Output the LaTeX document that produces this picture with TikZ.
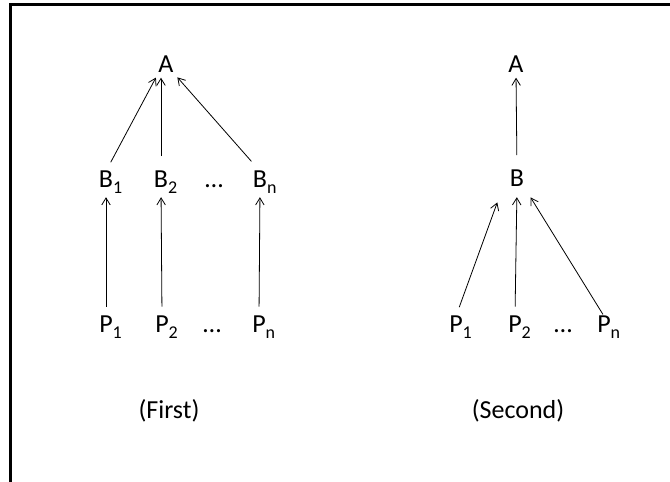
\documentclass[tikz,border=0pt]{standalone}
\usepackage{fontspec}
\setmainfont{Carlito}
\usepackage{tikz}
\usetikzlibrary{arrows.meta, calc}
\newcommand{\lsub}[1]{\rlap{\raisebox{-5.8pt}[0pt][0pt]{\fontsize{18}{20}\selectfont #1}}}
\tikzset{
    letter/.style={inner sep=0pt, anchor=base, font=\fontsize{26}{30}\selectfont},
    arr/.style={-{Straight Barb[length=7pt, width=8.5pt]}, line width=0.8pt, black},
    frame/.style={line width=2.5pt, black}
}

\begin{document}
\begin{tikzpicture}[x=1pt, y=1pt]
        \useasboundingbox (0,0) rectangle (670,482);
        % Frame: only the top and left edges show
        \draw[frame] (10.5,0) -- (10.5,477.5) -- (670,477.5);

        % First tree
        \node[letter] (fA) at (166,409) {A};
        \node[letter] (fB1) at (106,294) {B\lsub{1}};
        \node[letter] (fB2) at (161,294) {B\lsub{2}};
        \node[letter] (fBd) at (214,294) {…};
        \node[letter] (fBn) at (260,294) {B\lsub{n}};
        \node[letter] (fP1) at (106,149) {P\lsub{1}};
        \node[letter] (fP2) at (162,149) {P\lsub{2}};
        \node[letter] (fPd) at (212,149) {…};
        \node[letter] (fPn) at (259,149) {P\lsub{n}};
        \node[letter] (first) at (169,63) {(First)};

        \draw[arr, shorten <=10pt, shorten >=5pt] (fB1.north) -- (fA.south west);
        \draw[arr, shorten <=15pt, shorten >=4.5pt] (fB2.north) -- (fB2.north |- fA.south);
        \draw[arr, shorten <=13pt, shorten >=5.5pt] (fBn.north) -- (fA.south east);
        \draw[arr, shorten <=9.5pt, shorten >=9pt] (fP1.north) -- (fB1.south);
        \draw[arr, shorten <=9.5pt, shorten >=9pt] (fP2.north) -- (fB2.south);
        \draw[arr, shorten <=9.5pt, shorten >=9pt] (fPn.north) -- (fBn.south);

        % Second tree
        \node[letter] (sA) at (516,409) {A};
        \node[letter] (sB) at (517,295) {B};
        \node[letter] (sP1) at (456,149) {P\lsub{1}};
        \node[letter] (sP2) at (515,149) {P\lsub{2}};
        \node[letter] (sPd) at (563,149) {…};
        \node[letter] (sPn) at (604,149) {P\lsub{n}};
        \node[letter] (second) at (518,63) {(Second)};

        \draw[arr, shorten <=15pt, shorten >=4.5pt] (sB.north) -- (sA.south);
        \draw[arr, shorten <=9.5pt, shorten >=13pt] (sP1.north) -- ($(sB.south west)+(-8,-3)$);
        \draw[arr, shorten <=9.5pt, shorten >=10pt] (sP2.north) -- (sB.south);
        \draw[arr, shorten <=2pt, shorten >=12pt] (sPn.north) -- (sB.south east);
    \end{tikzpicture}
\end{document}
